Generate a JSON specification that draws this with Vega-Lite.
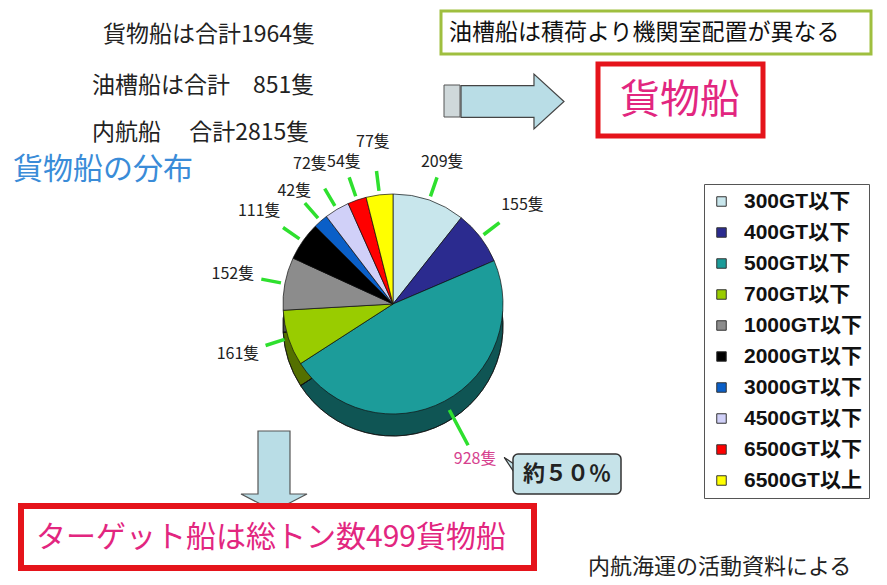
{
  "$schema": "https://vega.github.io/schema/vega-lite/v6.json",
  "autosize": {"type": "fit", "contains": "padding"},
  "width": 887,
  "height": 585,
  "padding": 0,
  "background": "white",
  "config": {"view": {"stroke": null}, "font": "Noto Sans CJK JP"},
  "data": {"values": [
    {"size": "300GT以下", "count": 209, "order": 1, "label": "209隻"},
    {"size": "400GT以下", "count": 155, "order": 2, "label": "155隻"},
    {"size": "500GT以下", "count": 928, "order": 3, "label": "928隻"},
    {"size": "700GT以下", "count": 161, "order": 4, "label": "161隻"},
    {"size": "1000GT以下", "count": 152, "order": 5, "label": "152隻"},
    {"size": "2000GT以下", "count": 111, "order": 6, "label": "111隻"},
    {"size": "3000GT以下", "count": 42, "order": 7, "label": "42隻"},
    {"size": "4500GT以下", "count": 72, "order": 8, "label": "72隻"},
    {"size": "6500GT以下", "count": 54, "order": 9, "label": "54隻"},
    {"size": "6500GT以上", "count": 77, "order": 10, "label": "77隻"}
  ]},
  "layer": [
    {"data": {"values": [{}]}, "mark": {"type": "text", "x": 102, "y": 34, "align": "left", "baseline": "middle", "text": "貨物船は合計1964隻", "fontSize": 23, "color": "#222"}, "encoding": {}},
    {"data": {"values": [{}]}, "mark": {"type": "text", "x": 91, "y": 85, "align": "left", "baseline": "middle", "text": "油槽船は合計　851隻", "fontSize": 23, "color": "#222"}, "encoding": {}},
    {"data": {"values": [{}]}, "mark": {"type": "text", "x": 91, "y": 132, "align": "left", "baseline": "middle", "text": "内航船　 合計2815隻", "fontSize": 23, "color": "#222"}, "encoding": {}},
    {"data": {"values": [{}]}, "mark": {"type": "text", "x": 12, "y": 169, "align": "left", "baseline": "middle", "text": "貨物船の分布", "fontSize": 30, "color": "#3a8cd8"}, "encoding": {}},
    {"data": {"values": [{}]}, "mark": {"type": "rect", "x": 440, "y": 10, "x2": 870, "y2": 53, "fill": "white", "stroke": "#9fbf3f", "strokeWidth": 3}, "encoding": {}},
    {"data": {"values": [{}]}, "mark": {"type": "text", "x": 448, "y": 32, "align": "left", "baseline": "middle", "text": "油槽船は積荷より機関室配置が異なる", "fontSize": 23, "color": "#111"}, "encoding": {}},
    {"data": {"values": [{}]}, "mark": {"type": "rect", "x": 443, "y": 84, "x2": 459, "y2": 116, "fill": "#cfd8da", "stroke": "#555", "strokeWidth": 1}, "encoding": {}},
    {"data": {"values": [{}]}, "mark": {"type": "rule", "x": 448, "y": 84, "x2": 448, "y2": 116, "stroke": "#555", "strokeWidth": 1.5}, "encoding": {}},
    {"data": {"values": [{}]}, "mark": {"type": "rule", "x": 453, "y": 84, "x2": 453, "y2": 116, "stroke": "#555", "strokeWidth": 1.5}, "encoding": {}},
    {"data": {"values": [{}]}, "mark": {"type": "point", "x": 511.5, "y": 100.5, "size": 10609, "shape": "M -1 -0.31 L 0.417 -0.31 L 0.417 -0.534 L 1 0 L 0.417 0.534 L 0.417 0.31 L -1 0.31 Z", "filled": true, "fill": "#b9dde6", "stroke": "#444", "strokeWidth": 1.2, "opacity": 1}, "encoding": {}},
    {"data": {"values": [{}]}, "mark": {"type": "rect", "x": 597, "y": 63, "x2": 762, "y2": 135, "fill": "white", "stroke": "#e5141b", "strokeWidth": 5}, "encoding": {}},
    {"data": {"values": [{}]}, "mark": {"type": "text", "x": 679, "y": 100, "align": "center", "baseline": "middle", "text": "貨物船", "fontSize": 40, "color": "#e2267f"}, "encoding": {}},
    {"data": {"values": [{}]}, "mark": {"type": "point", "x": 273, "y": 470, "size": 6400, "shape": "M -0.4 -1 L 0.4 -1 L 0.4 0.575 L 0.825 0.575 L 0 1 L -0.825 0.575 L -0.4 0.575 Z", "filled": true, "fill": "#b9dde6", "stroke": "#555", "strokeWidth": 1.2, "opacity": 1}, "encoding": {}},
    {"data": {"values": [{}]}, "mark": {"type": "rect", "x": 20, "y": 505, "x2": 533, "y2": 567, "fill": "white", "stroke": "#e5141b", "strokeWidth": 6}, "encoding": {}},
    {"data": {"values": [{}]}, "mark": {"type": "text", "x": 35, "y": 537, "align": "left", "baseline": "middle", "text": "ターゲット船は総トン数499貨物船", "fontSize": 30, "color": "#e2267f"}, "encoding": {}},
    {"data": {"values": [{}]}, "mark": {"type": "point", "x": 490, "y": 463, "size": 1936, "shape": "M 0.6 -0.3 L 1.2 0.1 L 1.2 0.6 Z", "filled": true, "fill": "#c6e3e9", "stroke": "#333", "strokeWidth": 1.2, "opacity": 1}, "encoding": {}},
    {"data": {"values": [{}]}, "mark": {"type": "rect", "x": 512, "y": 453, "x2": 620, "y2": 493, "fill": "#c6e3e9", "stroke": "#333", "strokeWidth": 1.5, "cornerRadius": 5}, "encoding": {}},
    {"data": {"values": [{}]}, "mark": {"type": "text", "x": 566, "y": 473, "align": "center", "baseline": "middle", "text": "約５０％", "fontSize": 22, "fontWeight": "bold", "color": "#222"}, "encoding": {}},
    {"data": {"values": [{}]}, "mark": {"type": "text", "x": 587, "y": 566, "align": "left", "baseline": "middle", "text": "内航海運の活動資料による", "fontSize": 22, "color": "#222"}, "encoding": {}},
    {
      "mark": {"type": "arc", "x": 392, "y": 325, "radius": 110, "stroke": "#111", "strokeWidth": 0.7},
      "encoding": {
        "theta": {"field": "count", "type": "quantitative", "stack": true},
        "order": {"field": "order", "type": "quantitative", "sort": "ascending"},
        "color": {"field": "size", "type": "nominal",
          "scale": {"domain": ["300GT以下","400GT以下","500GT以下","700GT以下","1000GT以下","2000GT以下","3000GT以下","4500GT以下","6500GT以下","6500GT以上"],
                    "range": ["#c8e6ec","#2b2b8f","#1c9c9a","#99cc00","#8c8c8c","#000000","#0a5fc8","#d0d0f8","#ff0000","#ffff00"]},
          "legend": {"orient": "none", "legendX": 703, "legendY": 183, "title": null, "symbolType": "square", "symbolSize": 90, "symbolStrokeColor": "#333", "symbolStrokeWidth": 1, "labelFont": "Liberation Sans, Noto Sans CJK JP", "labelFontSize": 21, "labelFontWeight": "bold", "labelColor": "#111", "rowPadding": 9, "padding": 7, "strokeColor": "#555", "fillColor": "white", "labelOffset": 12, "labelLimit": 300}}
      }
    },
    {
      "mark": {"type": "arc", "x": 392, "y": 325, "radius": 110, "fill": "black", "fillOpacity": 0.45, "stroke": "#111", "strokeWidth": 0.7},
      "encoding": {
        "theta": {"field": "count", "type": "quantitative", "stack": true},
        "order": {"field": "order", "type": "quantitative", "sort": "ascending"}
      }
    },
    {
      "mark": {"type": "arc", "x": 392, "y": 303, "radius": 110, "stroke": "#111", "strokeWidth": 0.7},
      "encoding": {
        "theta": {"field": "count", "type": "quantitative", "stack": true},
        "order": {"field": "order", "type": "quantitative", "sort": "ascending"},
        "color": {"field": "size", "type": "nominal",
          "scale": {"domain": ["300GT以下","400GT以下","500GT以下","700GT以下","1000GT以下","2000GT以下","3000GT以下","4500GT以下","6500GT以下","6500GT以上"],
                    "range": ["#c8e6ec","#2b2b8f","#1c9c9a","#99cc00","#8c8c8c","#000000","#0a5fc8","#d0d0f8","#ff0000","#ffff00"]},
          "legend": {"orient": "none", "legendX": 703, "legendY": 183, "title": null, "symbolType": "square", "symbolSize": 90, "symbolStrokeColor": "#333", "symbolStrokeWidth": 1, "labelFont": "Liberation Sans, Noto Sans CJK JP", "labelFontSize": 21, "labelFontWeight": "bold", "labelColor": "#111", "rowPadding": 9, "padding": 7, "strokeColor": "#555", "fillColor": "white", "labelOffset": 12, "labelLimit": 300}}
      }
    },
    {
      "mark": {"type": "arc", "x": 392, "y": 303, "radius": 134, "radius2": 114, "padAngle": 3.14159, "fill": "transparent", "stroke": "#2ee02e", "strokeWidth": 3.5, "strokeCap": "round"},
      "encoding": {
        "theta": {"field": "count", "type": "quantitative", "stack": true},
        "order": {"field": "order", "type": "quantitative", "sort": "ascending"},
        "strokeOpacity": {"condition": {"test": "datum.order === 3", "value": 0}, "value": 1}
      }
    },
    {
      "mark": {"type": "arc", "x": 392, "y": 303, "radius": 160, "radius2": 120, "padAngle": 3.14159, "fill": "transparent", "stroke": "#2ee02e", "strokeWidth": 3.5, "strokeCap": "round"},
      "encoding": {
        "theta": {"field": "count", "type": "quantitative", "stack": true},
        "order": {"field": "order", "type": "quantitative", "sort": "ascending"},
        "strokeOpacity": {"condition": {"test": "datum.order === 3", "value": 1}, "value": 0}
      }
    },
    {
      "mark": {"type": "text", "x": 392, "y": 303, "radius": 150, "fontSize": 16, "font": "Liberation Sans Narrow, Noto Sans CJK JP", "color": "#222", "align": "center", "baseline": "middle"},
      "encoding": {
        "theta": {"field": "count", "type": "quantitative", "stack": true},
        "order": {"field": "order", "type": "quantitative", "sort": "ascending"},
        "text": {"condition": {"test": "indexof([1,7,9], datum.order) < 0", "value": ""}, "field": "label"}
      }
    },
    {
      "mark": {"type": "text", "x": 392, "y": 303, "radius": 163, "fontSize": 16, "font": "Liberation Sans Narrow, Noto Sans CJK JP", "color": "#222", "align": "center", "baseline": "middle"},
      "encoding": {
        "theta": {"field": "count", "type": "quantitative", "stack": true},
        "order": {"field": "order", "type": "quantitative", "sort": "ascending"},
        "text": {"condition": {"test": "indexof([2,4,5,6,8,10], datum.order) < 0", "value": ""}, "field": "label"}
      }
    },
    {
      "mark": {"type": "text", "x": 392, "y": 303, "radius": 175, "fontSize": 16, "font": "Liberation Sans Narrow, Noto Sans CJK JP", "color": "#d6418e", "align": "center", "baseline": "middle"},
      "encoding": {
        "theta": {"field": "count", "type": "quantitative", "stack": true},
        "order": {"field": "order", "type": "quantitative", "sort": "ascending"},
        "text": {"condition": {"test": "datum.order !== 3", "value": ""}, "field": "label"}
      }
    }
  ]
}
